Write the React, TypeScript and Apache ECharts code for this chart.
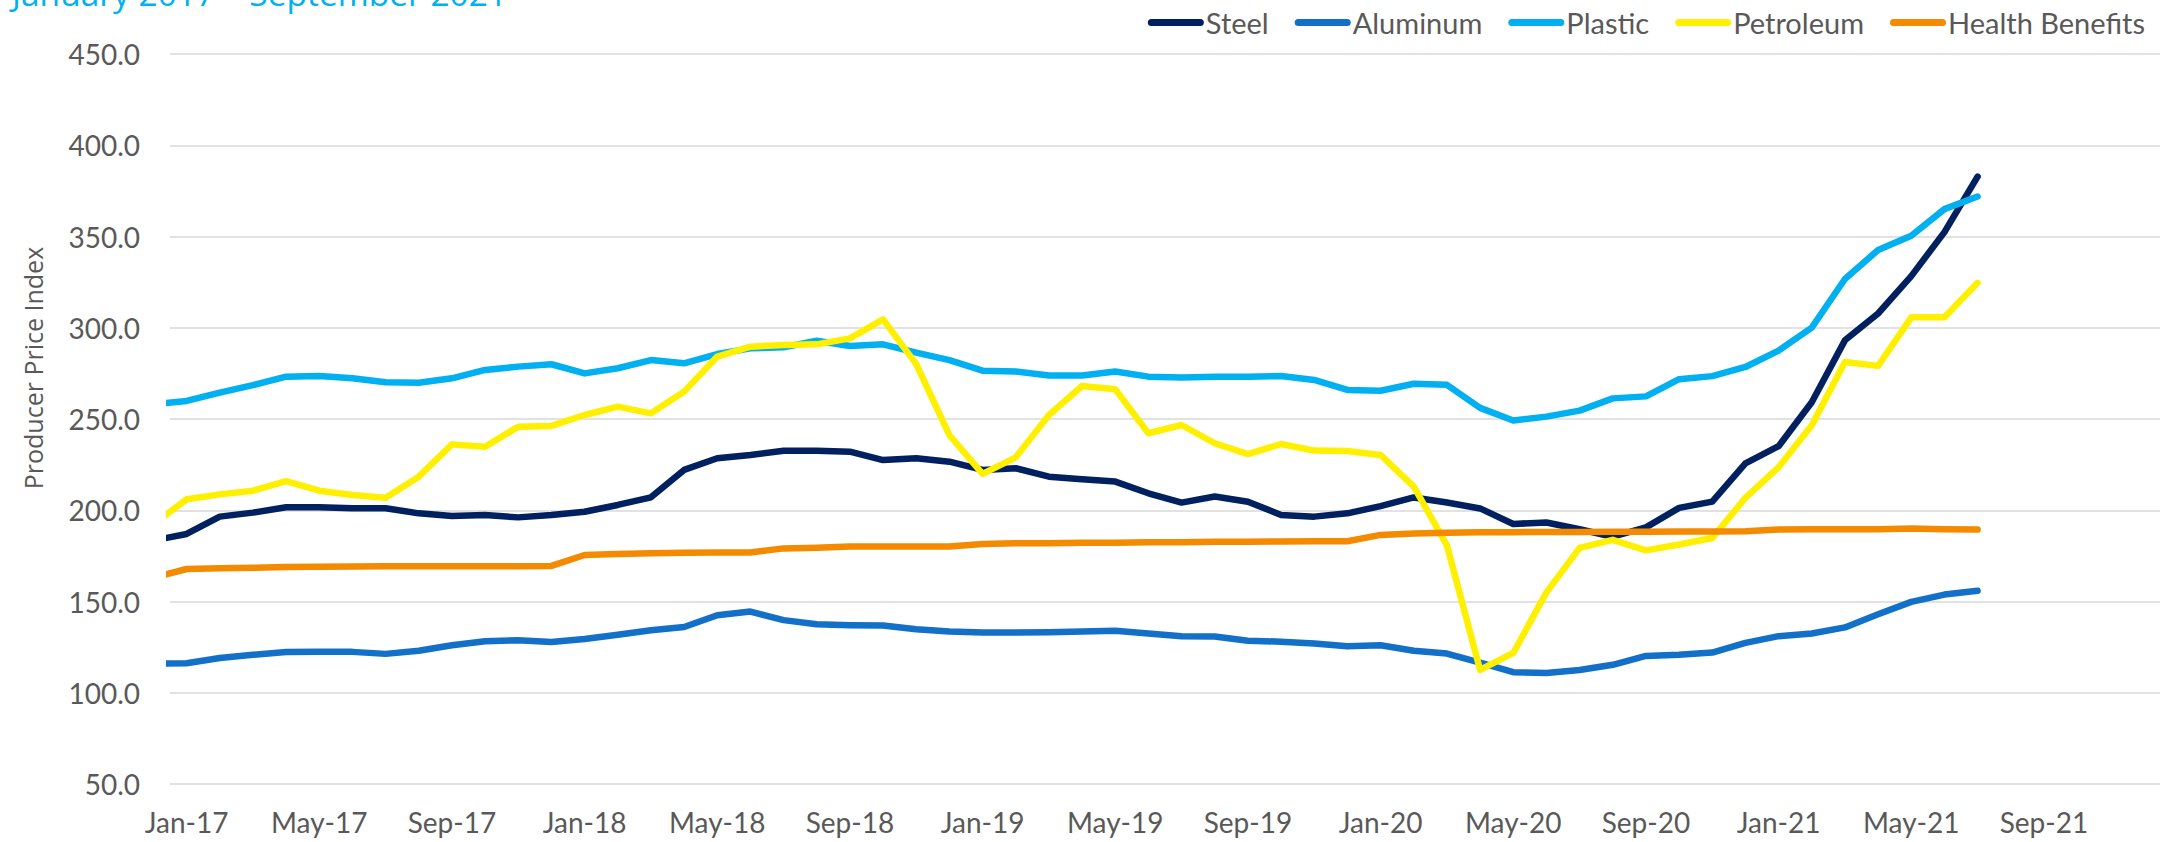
import React, { useEffect, useRef } from "react";
import * as echarts from "echarts";

// Monthly categories (data run from Dec-16 to Jul-21)
const months = [
  "Dec-16",
  "Jan-17", "Feb-17", "Mar-17", "Apr-17", "May-17", "Jun-17", "Jul-17", "Aug-17", "Sep-17", "Oct-17", "Nov-17", "Dec-17",
  "Jan-18", "Feb-18", "Mar-18", "Apr-18", "May-18", "Jun-18", "Jul-18", "Aug-18", "Sep-18", "Oct-18", "Nov-18", "Dec-18",
  "Jan-19", "Feb-19", "Mar-19", "Apr-19", "May-19", "Jun-19", "Jul-19", "Aug-19", "Sep-19", "Oct-19", "Nov-19", "Dec-19",
  "Jan-20", "Feb-20", "Mar-20", "Apr-20", "May-20", "Jun-20", "Jul-20", "Aug-20", "Sep-20", "Oct-20", "Nov-20", "Dec-20",
  "Jan-21", "Feb-21", "Mar-21", "Apr-21", "May-21", "Jun-21", "Jul-21",
];

const steel = [183.4, 187.0, 196.5, 198.7, 201.6, 201.6, 201.1, 201.1, 198.3, 196.9, 197.4, 196.1, 197.4, 199.2, 202.9, 207.1, 222.1, 228.5, 230.3, 232.6, 232.6, 232.1, 227.5, 228.5, 226.6, 222.1, 223.0, 218.4, 217.0, 215.7, 209.3, 204.2, 207.5, 204.7, 197.4, 196.5, 198.3, 202.3, 207.0, 204.2, 201.0, 192.5, 193.3, 189.6, 185.5, 190.6, 201.3, 204.7, 225.7, 235.1, 259.2, 293.1, 307.8, 328.3, 352.4, 382.8];
const aluminum = [116.0, 116.2, 119.0, 120.8, 122.3, 122.5, 122.4, 121.3, 123.0, 126.0, 128.2, 128.8, 127.8, 129.5, 131.8, 134.2, 136.0, 142.5, 144.5, 139.8, 137.5, 137.0, 136.8, 134.8, 133.5, 133.0, 133.0, 133.2, 133.5, 134.0, 132.5, 131.0, 130.8, 128.5, 128.0, 127.0, 125.5, 126.0, 123.0, 121.5, 116.5, 111.3, 110.8, 112.5, 115.3, 120.2, 120.8, 122.0, 127.3, 131.0, 132.5, 135.8, 143.0, 149.8, 153.8, 155.9];
const plastic = [258.1, 259.9, 264.4, 268.6, 273.2, 273.6, 272.3, 270.1, 269.9, 272.3, 276.9, 278.7, 280.0, 275.0, 277.8, 282.3, 280.5, 285.6, 288.7, 289.3, 292.9, 290.0, 290.9, 286.4, 282.3, 276.5, 276.0, 273.8, 273.8, 276.0, 273.2, 272.7, 273.2, 273.2, 273.6, 271.4, 265.9, 265.5, 269.3, 268.7, 256.1, 249.2, 251.3, 254.6, 261.3, 262.4, 271.8, 273.5, 278.5, 287.5, 300.1, 326.7, 342.6, 350.4, 365.0, 371.9];
const petroleum = [192.4, 206.0, 208.7, 210.7, 216.0, 210.7, 208.4, 206.9, 218.4, 236.1, 234.8, 245.8, 246.2, 252.2, 256.8, 253.1, 265.0, 284.2, 289.6, 290.6, 290.9, 294.2, 304.6, 280.1, 241.2, 219.9, 229.0, 252.2, 268.1, 266.3, 242.2, 246.7, 236.7, 230.8, 236.3, 232.7, 232.5, 230.3, 213.0, 180.8, 112.5, 121.8, 155.0, 179.4, 183.8, 178.0, 181.2, 184.8, 206.8, 223.6, 246.6, 281.2, 279.1, 305.7, 305.7, 324.6];
const healthBenefits = [163.0, 167.8, 168.2, 168.5, 168.9, 169.1, 169.2, 169.3, 169.3, 169.3, 169.3, 169.3, 169.5, 175.5, 176.0, 176.4, 176.7, 176.9, 176.9, 179.1, 179.5, 180.1, 180.1, 180.1, 180.1, 181.5, 181.9, 181.9, 182.2, 182.2, 182.4, 182.4, 182.8, 182.8, 182.9, 183.0, 183.0, 186.5, 187.2, 187.7, 188.0, 188.0, 188.1, 188.1, 188.2, 188.2, 188.3, 188.4, 188.5, 189.4, 189.6, 189.6, 189.6, 190.0, 189.6, 189.5];

const tickLabels = ["Jan-17", "May-17", "Sep-17", "Jan-18", "May-18", "Sep-18", "Jan-19", "May-19", "Sep-19", "Jan-20", "May-20", "Sep-20", "Jan-21", "May-21", "Sep-21"];

const seriesNames = ["Steel", "Aluminum", "Plastic", "Petroleum", "Health Benefits"];
const seriesColors = ["#002060", "#1270C8", "#00B0F0", "#FFF000", "#F48A00"];

const MONTH_NAMES = ["Jan", "Feb", "Mar", "Apr", "May", "Jun", "Jul", "Aug", "Sep", "Oct", "Nov", "Dec"];
// months elapsed since Jan-17 for a "Mmm-YY" label
const monthPos = (label: string) => {
  const [m, y] = label.split("-");
  return (parseInt(y, 10) - 17) * 12 + MONTH_NAMES.indexOf(m);
};

const TEXT = "#595959";
const LEGEND_ICON = "path://M3.5,0 H52.5 A3.5,3.5 0 0 1 52.5,7 H3.5 A3.5,3.5 0 0 1 3.5,0 Z";

export default function App() {
  const ref = useRef<HTMLDivElement>(null);

  useEffect(() => {
    if (!ref.current) return;
    const chart = echarts.init(ref.current, null, { renderer: "svg" });
    const allData = [steel, aluminum, plastic, petroleum, healthBenefits];
    const tickPos = tickLabels.map(monthPos);

    chart.setOption({
      animation: false,
      backgroundColor: "#ffffff",
      grid: { left: 170, right: 4, top: 54, bottom: 58 },
      legend: {
        data: seriesNames.map((name) => ({ name, icon: LEGEND_ICON })),
        right: 19,
        top: 8,
        padding: 0,
        itemWidth: 56,
        itemHeight: 7,
        itemGap: 26,
        textStyle: { color: TEXT, fontFamily: "Lato", fontSize: 29, padding: [0, 0, 0, -3] },
      },
      xAxis: {
        type: "value",
        min: -0.5,
        max: 59.5,
        axisLine: { show: false },
        axisTick: { show: false },
        splitLine: { show: false },
        axisLabel: {
          customValues: tickPos,
          formatter: (v: number) => {
            const i = tickPos.indexOf(Math.round(v));
            return i >= 0 ? tickLabels[i] : "";
          },
          color: TEXT,
          fontFamily: "Lato",
          fontSize: 28,
          margin: 24,
        },
      },
      yAxis: {
        type: "value",
        min: 50,
        max: 450,
        interval: 50,
        axisLine: { show: false },
        axisTick: { show: false },
        splitLine: { lineStyle: { color: "#d9d9d9", width: 1.5 } },
        axisLabel: {
          formatter: (v: number) => v.toFixed(1),
          color: TEXT,
          fontFamily: "Lato",
          fontSize: 28,
          margin: 30,
        },
      },
      graphic: [
        {
          type: "text",
          x: 12,
          y: -7,
          style: {
            text: "January 2017 – September 2021",
            fill: "#00B0F0",
            fontFamily: "Open Sans",
            fontSize: 33.5,
            align: "left",
            verticalAlign: "middle",
          },
        },
        {
          type: "text",
          x: 33,
          y: 368,
          rotation: Math.PI / 2,
          style: {
            text: "Producer Price Index",
            fill: TEXT,
            fontFamily: "Open Sans",
            fontSize: 25,
            align: "center",
            verticalAlign: "middle",
          },
        },
      ],
      series: seriesNames.map((name, s) => ({
        name,
        type: "line",
        symbol: "none",
        showSymbol: false,
        clip: true,
        color: seriesColors[s],
        itemStyle: { color: seriesColors[s] },
        lineStyle: { width: 6.5, color: seriesColors[s], cap: "round", join: "round" },
        data: allData[s].map((v, i) => [monthPos(months[i]), v]),
      })),
    });

    return () => chart.dispose();
  }, []);

  return (
    <div
      ref={ref}
      style={{ position: "fixed", left: 0, top: 0, width: 2164, height: 842 }}
    />
  );
}
